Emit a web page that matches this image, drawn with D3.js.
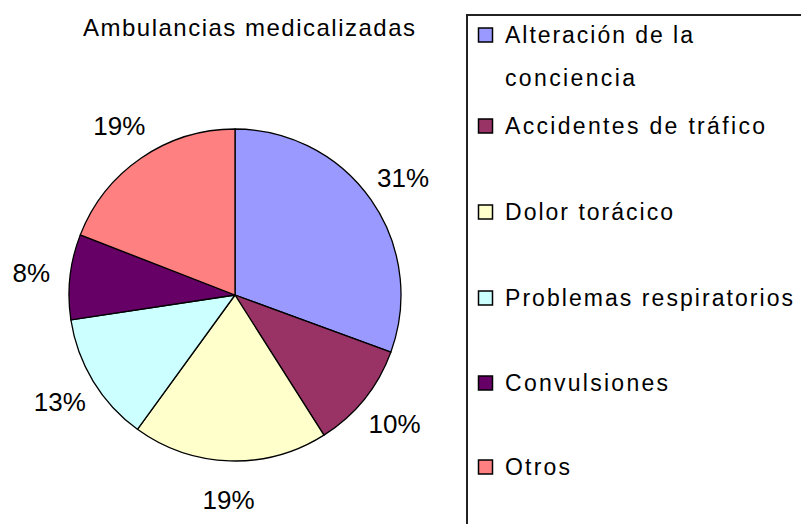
<!DOCTYPE html>
<html>
<head>
<meta charset="utf-8">
<script src="https://cdn.jsdelivr.net/npm/d3@7"></script>
<style>
  body { margin: 0; background: #fff; }
  text { font-family: "Liberation Sans", Arial, sans-serif; fill: #000; }
</style>
</head>
<body>
<div id="chart"></div>
<script>
// data (clockwise from 12 o'clock)
const categories = ["Alteración de la conciencia", "Accidentes de tráfico", "Dolor torácico",
  "Problemas respiratorios", "Convulsiones", "Otros"];
const values = [30.6, 10.4, 19.0, 12.6, 8.3, 19.1];
const colors = ["#9999FF", "#993366", "#FFFFCC", "#CCFFFF", "#660066", "#FF8080"];
// legend text split into lines, as in the picture
const legendLines = [["Alteración de la", "conciencia"], ["Accidentes de tráfico"], ["Dolor torácico"],
  ["Problemas respiratorios"], ["Convulsiones"], ["Otros"]];
const legendWidths = [[188, 130], [260], [168], [288], [163], [65]];

const width = 801, height = 524;
const cx = 235, cy = 295, r = 166;

const svg = d3.select("#chart").append("svg")
    .attr("width", width)
    .attr("height", height);

// title
svg.append("text")
    .attr("x", 83)
    .attr("y", 36)
    .attr("textLength", 332)
    .attr("lengthAdjust", "spacing")
    .style("font-size", "24px")
    .text("Ambulancias medicalizadas");

const total = d3.sum(values);
const pie = d3.pie().sort(null).value(d => d);
const arcs = pie(values);
const arc = d3.arc().innerRadius(0).outerRadius(r);
const labelArc = d3.arc().innerRadius(205).outerRadius(205);

const g = svg.append("g").attr("transform", `translate(${cx},${cy})`);

g.selectAll("path")
    .data(arcs)
    .enter()
    .append("path")
    .attr("d", arc)
    .attr("fill", (d, i) => colors[i])
    .attr("stroke", "#000")
    .attr("stroke-width", 1.3)
    .attr("stroke-linejoin", "round");

g.selectAll("text.pct")
    .data(arcs)
    .enter()
    .append("text")
    .attr("class", "pct")
    .attr("x", d => labelArc.centroid(d)[0])
    .attr("y", d => labelArc.centroid(d)[1])
    .attr("text-anchor", "middle")
    .attr("dominant-baseline", "central")
    .style("font-size", "26px")
    .text(d => Math.round(d.value / total * 100) + "%");

// legend box (runs off the right and bottom edge)
svg.append("rect")
    .attr("x", 467)
    .attr("y", 15)
    .attr("width", 400)
    .attr("height", 600)
    .attr("fill", "none")
    .attr("stroke", "#222")
    .attr("stroke-width", 2);

const itemY = d3.scalePoint().domain(d3.range(categories.length)).range([35, 467]);
// first item has two lines; other rows are evenly spaced after row 2
const rowY = [35, 126, 212, 298, 383, 467];

const legend = svg.selectAll("g.item")
    .data(categories)
    .enter()
    .append("g")
    .attr("class", "item")
    .attr("transform", (d, i) => `translate(478,${rowY[i]})`);

legend.append("rect")
    .attr("x", 0.5)
    .attr("y", -7)
    .attr("width", 14)
    .attr("height", 14)
    .attr("fill", (d, i) => colors[i])
    .attr("stroke", "#000")
    .attr("stroke-width", 1.5);

legend.each(function(d, i) {
    const item = d3.select(this);
    legendLines[i].forEach((line, j) => {
        item.append("text")
            .attr("x", 27)
            .attr("y", j * 43)
            .attr("dominant-baseline", "central")
            .attr("textLength", legendWidths[i][j])
            .attr("lengthAdjust", "spacing")
            .style("font-size", "23px")
            .text(line);
    });
});
</script>
</body>
</html>
